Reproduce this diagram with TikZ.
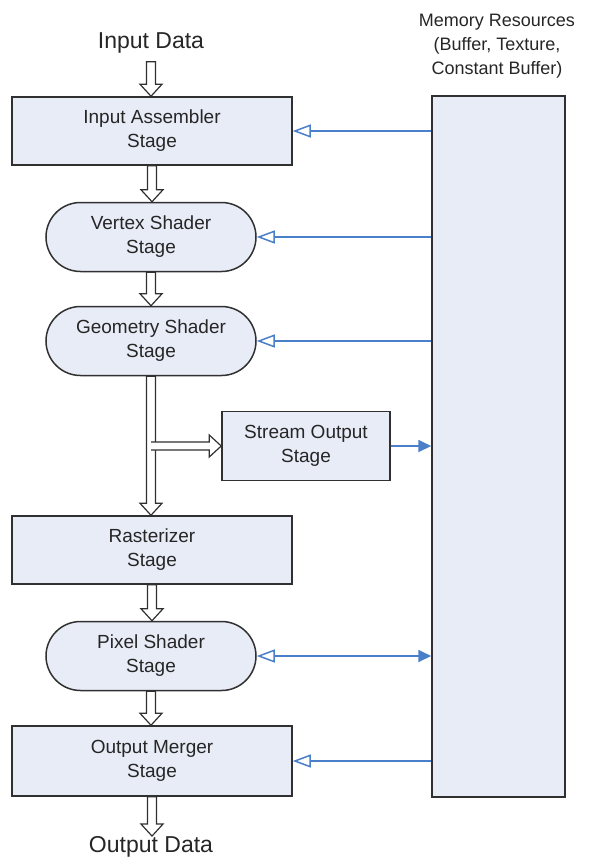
\documentclass[tikz,border=0pt]{standalone}
\usepackage{fontspec}
\setmainfont{Liberation Sans}
\usetikzlibrary{arrows.meta,calc}
\definecolor{stagefill}{HTML}{E8ECF7}
\definecolor{memblue}{HTML}{4A7FC9}
\definecolor{edgegray}{HTML}{303030}
\newcommand\fatdown[2]{\path[fatarr] let \p1=#1, \p2=#2 in
  (\x1-4.5pt,\y1) -- (\x1-4.5pt,\y2+12pt) -- (\x1-11pt,\y2+12pt) -- (\x1,\y2)
  -- (\x1+11pt,\y2+12pt) -- (\x1+4.5pt,\y2+12pt) -- (\x1+4.5pt,\y1) -- cycle;}
\newcommand\fatright[2]{\path[fatarr] let \p1=#1, \p2=#2 in
  (\x1,\y1+4pt) -- (\x2-12pt,\y1+4pt) -- (\x2-12pt,\y1+11pt) -- (\x2,\y1)
  -- (\x2-12pt,\y1-11pt) -- (\x2-12pt,\y1-4pt) -- (\x1,\y1-4pt);}
\begin{document}
\begin{tikzpicture}[x=1pt,y=-1pt,
  stagebox/.style={draw=edgegray,line width=1.5pt,fill=stagefill,inner sep=0pt,
    align=center,text=black!85,font=\fontsize{19}{24}\selectfont},
  rectstage/.style={stagebox,minimum width=280pt,minimum height=68pt},
  roundstage/.style={stagebox,minimum width=210pt,minimum height=69pt,rounded corners=34.5pt},
  fatarr/.style={draw=edgegray,line width=1.2pt,fill=white,line join=miter},
  memline/.style={draw=memblue,line width=1.8pt},
  opentip/.style={-{Triangle[open,length=18pt,width=13pt,line width=1.5pt]}},
  bothtip/.style={{Triangle[open,length=18pt,width=13pt,line width=1.5pt]}-{Triangle[length=13pt,width=12pt]}},
  filledtip/.style={-{Triangle[length=13pt,width=12pt]}},
  label/.style={text=black!85,font=\fontsize{23}{28}\selectfont}
]
\useasboundingbox (0,0) rectangle (590,864);
\node[label] (in) at (151,43) {Input Data};
\node[rectstage] (ia) at (152,131) {Input Assembler\\Stage};
\node[roundstage] (vs) at (151,237) {Vertex Shader\\Stage};
\node[roundstage] (gs) at (151,341) {Geometry Shader\\Stage};
\node[stagebox,minimum width=168pt,minimum height=69pt] (so) at (306,446) {Stream Output\\Stage};
\node[rectstage] (ra) at (152,550) {Rasterizer\\Stage};
\node[roundstage] (ps) at (151,656) {Pixel Shader\\Stage};
\node[rectstage,minimum height=70pt] (om) at (152,761) {Output Merger\\Stage};
\node[label] (out) at (151,847) {Output Data};
\node[draw=edgegray,line width=1.5pt,fill=stagefill,minimum width=133pt,minimum height=701pt,inner sep=0pt] (mem) at (498.5,446.5) {};
\node[align=center,text=black!85,font=\fontsize{18}{24}\selectfont] (memtext) at (497,46) {Memory Resources\\(Buffer, Texture,\\Constant Buffer)};
% fat data-flow arrows
\fatdown{($(in.south)+(0,5)$)}{(ia.north)}
\fatdown{(ia.south)}{(vs.north)}
\fatdown{(vs.south)}{(gs.north)}
\fatdown{(gs.south)}{(ra.north)}
\fatright{(gs.south |- so.west)}{(so.west)}
\fatdown{(ra.south)}{(ps.north)}
\fatdown{(ps.south)}{(om.north)}
\fatdown{(om.south)}{($(out.north)+(0,3)$)}
% memory connections
\draw[memline,opentip] (mem.west |- ia.east) -- (ia.east);
\draw[memline,opentip] (mem.west |- vs.east) -- (vs.east);
\draw[memline,opentip] (mem.west |- gs.east) -- (gs.east);
\draw[memline,filledtip] (so.east) -- (mem.west |- so.east);
\draw[memline,bothtip] (ps.east) -- (mem.west |- ps.east);
\draw[memline,opentip] (mem.west |- om.east) -- (om.east);
\end{tikzpicture}
\end{document}
